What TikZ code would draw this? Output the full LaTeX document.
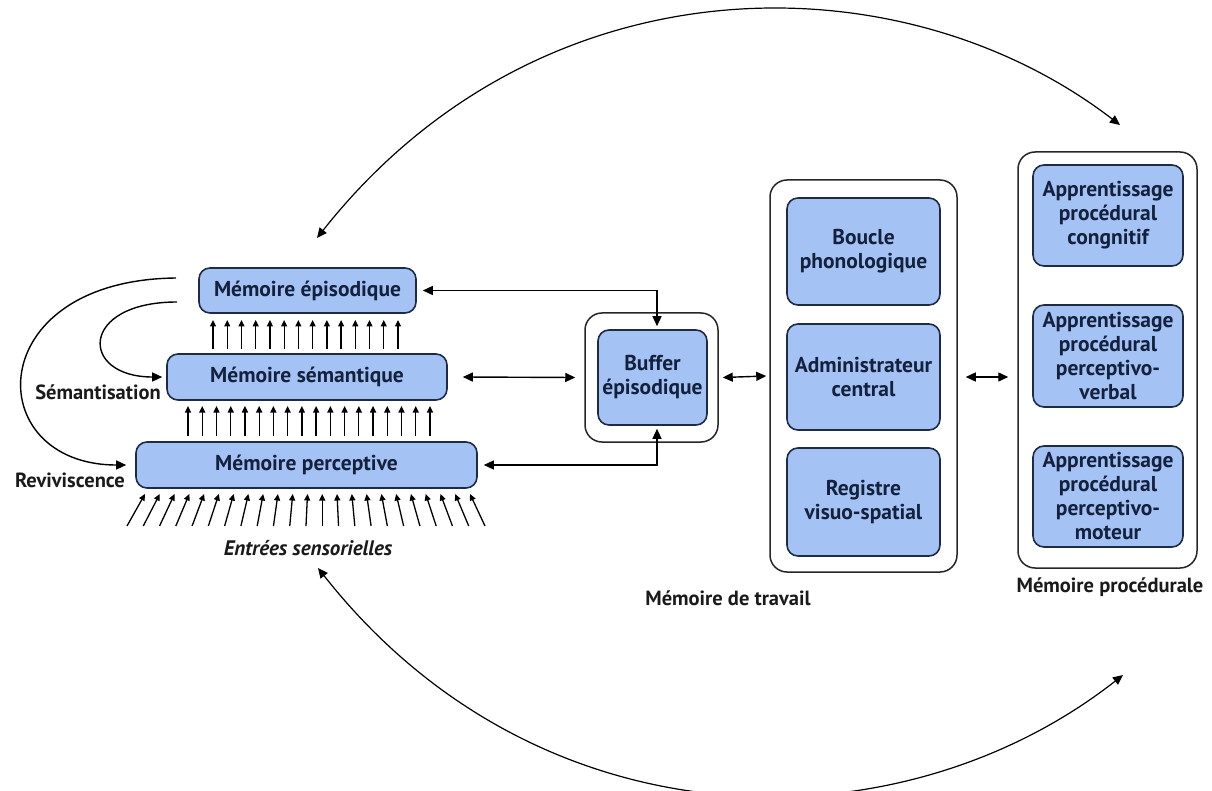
\documentclass[tikz,border=0pt]{standalone}
\usepackage{fontspec}
\setsansfont{PT Sans}
\usepackage{xcolor}
\usetikzlibrary{arrows.meta, positioning, calc}
\definecolor{boxfill}{HTML}{A4C2F4}
\definecolor{boxline}{HTML}{1E2B45}
\definecolor{boxtext}{HTML}{14213D}
\definecolor{labeltext}{HTML}{1A1A1A}

\begin{document}
\begin{tikzpicture}[
    x=1pt, y=-1pt,
    membox/.style={rectangle, draw=boxline, fill=boxfill, line width=1.6pt, text=boxtext, align=center, rounded corners=11pt, font=\sffamily\bfseries\fontsize{21.5}{24}\selectfont, inner sep=0pt},
    framebox/.style={rectangle, draw=black!85, line width=1.5pt, rounded corners=17pt, inner sep=0pt},
    caption/.style={text=labeltext, font=\sffamily\bfseries\fontsize{20.5}{24}\selectfont, inner sep=0pt},
    arrow/.style={line width=1.4pt, -{Triangle[length=10pt,width=9pt]}},
    dblarrow/.style={line width=1.4pt, {Triangle[length=10pt,width=9pt]}-{Triangle[length=10pt,width=9pt]}},
    tinyarrow/.style={line width=1.3pt, -{Triangle[length=6.5pt,width=6pt]}}
]
    \useasboundingbox (0,0) rectangle (1212,791);

    % Declarative memory stack
    \node[membox, minimum width=217pt, minimum height=45pt] (episodic) at (307.5,290.5) {Mémoire épisodique};
    \node[membox, minimum width=280pt, minimum height=46pt] (semantic) at (307,377) {Mémoire sémantique};
    \node[membox, minimum width=341pt, minimum height=46pt] (perceptive) at (306.5,465) {Mémoire perceptive};
    \node[caption, font=\sffamily\bfseries\itshape\fontsize{21}{24}\selectfont] (sensory) at (308,548) {Entrées sensorielles};
    \node[caption] (semlabel) at (98,392) {Sémantisation};
    \node[caption] (revlabel) at (70,480) {Reviviscence};

    % Upward flows between the layers
    \foreach \i in {0,...,13}
        \draw[tinyarrow] ({213+\i*185/13},349) -- ++(0,-29);
    \foreach \i in {0,...,17}
        \draw[tinyarrow] ({188+\i*242/17},436) -- ++(0,-30);
    \foreach \i in {0,...,22}
        \draw[tinyarrow] ({127+\i*358/22},526) -- ({145+\i*325/22},494);

    % Episodic buffer
    \node[framebox, minimum width=133pt, minimum height=129pt] (bufframe) at (651.5,377.5) {};
    \node[membox, minimum width=109pt, minimum height=95pt] (buffer) at (652.5,377.5) {Buffer\\épisodique};

    % Working memory
    \node[framebox, minimum width=187pt, minimum height=392pt] (wmframe) at (863.5,376) {};
    \node[membox, minimum width=153pt, minimum height=107pt] (loop) at (863.5,251.5) {Boucle\\phonologique};
    \node[membox, minimum width=153pt, minimum height=106pt] (central) at (863.5,377) {Administrateur\\central};
    \node[membox, minimum width=153pt, minimum height=108pt] (sketchpad) at (863.5,502) {Registre\\visuo-spatial};
    \node[caption] (wmlabel) at (728,598) {Mémoire de travail};

    % Procedural memory
    \node[framebox, minimum width=179pt, minimum height=416pt] (procframe) at (1107.5,360) {};
    \node[membox, minimum width=150pt, minimum height=101pt] (cognitive) at (1108,215.5) {Apprentissage\\procédural\\congnitif};
    \node[membox, minimum width=150pt, minimum height=102pt] (verbal) at (1108,356) {Apprentissage\\procédural\\perceptivo-\\verbal};
    \node[membox, minimum width=150pt, minimum height=101pt] (motor) at (1108,496.5) {Apprentissage\\procédural\\perceptivo-\\moteur};
    \node[caption] (proclabel) at (1110,587) {Mémoire procédurale};

    % Connections
    \draw[arrow] (176,278) .. controls (-20,280) and (-20,465) .. ([xshift=-9pt]perceptive.west);
    \draw[arrow] (177,302) .. controls (79,302) and (79,377) .. ([xshift=-4pt]semantic.west);
    \draw[dblarrow] ([xshift=6pt]episodic.east) -| ([xshift=4.5pt,yshift=3pt]buffer.north);
    \draw[dblarrow] ([xshift=6pt]perceptive.east) -| ([xshift=4.5pt,yshift=-3pt]buffer.south);
    \draw[dblarrow] ([xshift=15pt]semantic.east) -- ([xshift=-9pt]bufframe.west);
    \draw[dblarrow] ([xshift=4pt]bufframe.east) -- ([xshift=-3pt]wmframe.west);
    \draw[dblarrow] ([xshift=8pt]wmframe.east |- central.east) -- ([xshift=-9pt]procframe.west |- central.east);

    % Long-range links
    \coordinate (toptip) at (317,238);
    \coordinate (procup) at (1120,125);
    \coordinate (bottip) at (318,568);
    \coordinate (procdown) at (1123,675);
    \draw[dblarrow, line width=1.2pt] (toptip) .. controls (540,-44) and (900,-44) .. (procup);
    \draw[dblarrow, line width=1.2pt] (bottip) .. controls (540,850) and (900,850) .. (procdown);
\end{tikzpicture}
\end{document}
